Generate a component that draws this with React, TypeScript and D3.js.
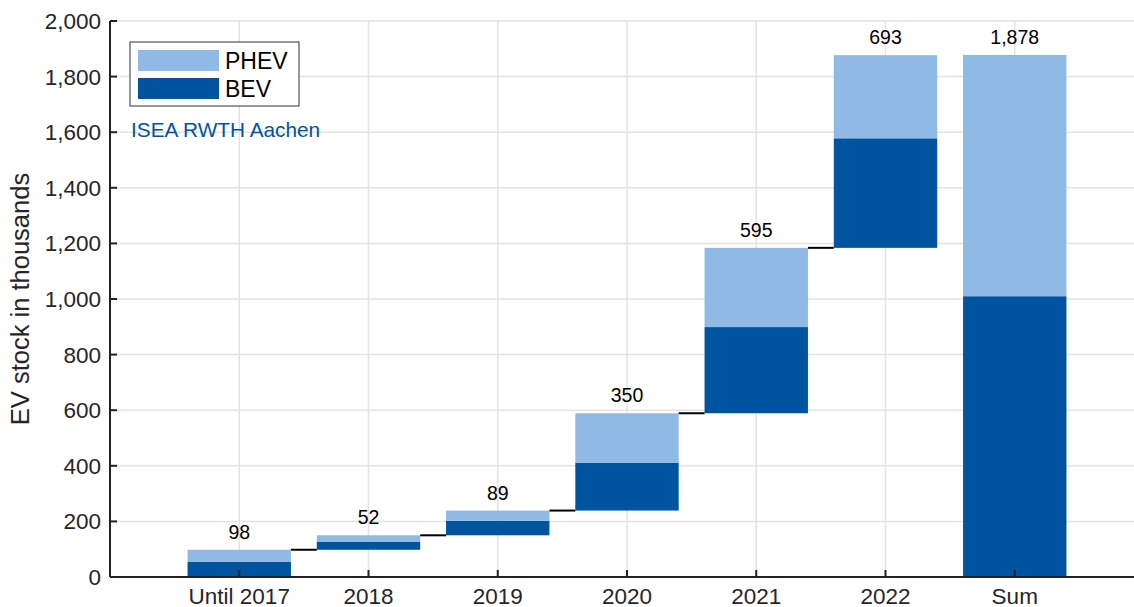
import React from "react";
import * as d3 from "d3";

const categories = ["Until 2017", "2018", "2019", "2020", "2021", "2022", "Sum"];
const bevValues = [54, 28, 52, 172, 310, 394, 1010];
const phevValues = [44, 24, 37, 178, 285, 299, 868];
const barLabels = [98, 52, 89, 350, 595, 693, 1878];
const yTicks = [0, 200, 400, 600, 800, 1000, 1200, 1400, 1600, 1800, 2000];
const seriesNames = ["PHEV", "BEV"];

const W = 1134;
const H = 607;
const BEV_COLOR = "#00549F";
const PHEV_COLOR = "#8EBAE5";
const FONT = "Liberation Sans, Arial, sans-serif";

export default function App() {
  const x = d3.scaleLinear().domain([0, 8]).range([110, 1144]);
  const y = d3.scaleLinear().domain([0, 2000]).range([577, 21]);
  const step = x(1) - x(0);
  const bw = step * 0.8;
  const fmt = d3.format(",");

  const bases: number[] = [];
  let acc = 0;
  categories.forEach((c, i) => {
    if (i === categories.length - 1) {
      bases.push(0);
    } else {
      bases.push(acc);
      acc += bevValues[i] + phevValues[i];
    }
  });

  return (
    <svg
      width={W}
      height={H}
      style={{ position: "absolute", left: 0, top: 0, background: "#fff" }}
      fontFamily={FONT}
    >
      <rect x={0} y={0} width={W} height={H} fill="#fff" />
      {yTicks.map((t) => (
        <line key={"gy" + t} x1={x(0)} x2={W} y1={y(t)} y2={y(t)} stroke="#e3e3e3" strokeWidth={1.5} />
      ))}
      {categories.map((c, i) => (
        <line key={"gx" + c} x1={x(i + 1)} x2={x(i + 1)} y1={y(0)} y2={y(2000)} stroke="#e3e3e3" strokeWidth={1.5} />
      ))}
      {categories.map((c, i) => {
        const b = bases[i];
        const cx = x(i + 1);
        return (
          <g key={"bar" + c}>
            <rect
              x={cx - bw / 2}
              width={bw}
              y={y(b + bevValues[i])}
              height={y(b) - y(b + bevValues[i])}
              fill={BEV_COLOR}
            />
            <rect
              x={cx - bw / 2}
              width={bw}
              y={y(b + bevValues[i] + phevValues[i])}
              height={y(b + bevValues[i]) - y(b + bevValues[i] + phevValues[i])}
              fill={PHEV_COLOR}
            />
            <text
              x={cx}
              y={y(b + bevValues[i] + phevValues[i]) - 11}
              textAnchor="middle"
              fontSize={19.5}
              fill="#000"
            >
              {fmt(barLabels[i])}
            </text>
          </g>
        );
      })}
      {categories.slice(0, categories.length - 2).map((c, i) => {
        const top = bases[i] + bevValues[i] + phevValues[i];
        return (
          <line
            key={"con" + c}
            x1={x(i + 1) + bw / 2}
            x2={x(i + 2) - bw / 2}
            y1={y(top)}
            y2={y(top)}
            stroke="#000"
            strokeWidth={2}
          />
        );
      })}
      <line x1={x(0)} x2={x(0)} y1={y(2000)} y2={y(0)} stroke="#222" strokeWidth={2} />
      <line x1={x(0)} x2={W} y1={y(0)} y2={y(0)} stroke="#222" strokeWidth={2} />
      {yTicks.map((t) => (
        <g key={"yt" + t}>
          <line x1={x(0)} x2={x(0) + 7} y1={y(t)} y2={y(t)} stroke="#222" strokeWidth={2} />
          <text x={x(0) - 9} y={y(t) + 8} textAnchor="end" fontSize={22.5} fill="#262626">
            {fmt(t)}
          </text>
        </g>
      ))}
      {categories.map((c, i) => (
        <g key={"xt" + c}>
          <line x1={x(i + 1)} x2={x(i + 1)} y1={y(0)} y2={y(0) - 7} stroke="#222" strokeWidth={2} />
          <text x={x(i + 1)} y={604} textAnchor="middle" fontSize={22.5} fill="#262626">
            {c}
          </text>
        </g>
      ))}
      <text
        transform={`translate(29, ${(y(0) + y(2000)) / 2}) rotate(-90)`}
        textAnchor="middle"
        fontSize={25.5}
        fill="#262626"
      >
        EV stock in thousands
      </text>
      <rect x={130} y={42} width={169} height={64} fill="#fff" stroke="#333" strokeWidth={1} />
      {seriesNames.map((s, i) => (
        <g key={"lg" + s}>
          <rect x={138} y={50 + i * 28} width={81} height={21} fill={s === "BEV" ? BEV_COLOR : PHEV_COLOR} />
          <text x={225} y={68.5 + i * 28} fontSize={23} fill="#000">
            {s}
          </text>
        </g>
      ))}
      <text x={131} y={137} fontSize={20.8} fill={BEV_COLOR}>
        ISEA RWTH Aachen
      </text>
    </svg>
  );
}
